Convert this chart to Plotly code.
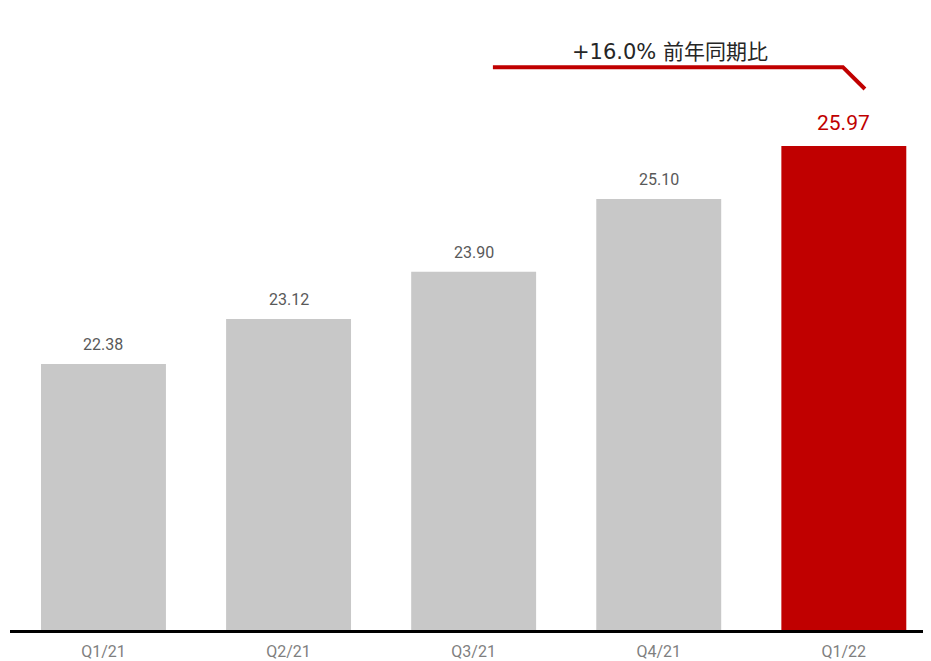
import plotly.graph_objects as go

categories = ["Q1/21", "Q2/21", "Q3/21", "Q4/21", "Q1/22"]
values = [22.38, 23.12, 23.90, 25.10, 25.97]
value_labels = ["22.38", "23.12", "23.90", "25.10", "25.97"]
bar_colors = ["#C8C8C8", "#C8C8C8", "#C8C8C8", "#C8C8C8", "#C00000"]
growth_label = "+16.0% 前年同期比"

fig = go.Figure()
fig.add_trace(go.Bar(
    x=categories, y=values, marker=dict(color=bar_colors, line=dict(width=0)),
    hoverinfo="skip", showlegend=False,
))

for i, (c, v, t) in enumerate(zip(categories, values, value_labels)):
    last = i == len(categories) - 1
    fig.add_annotation(
        x=c, y=v, xref="x", yref="y", text=t, showarrow=False,
        yanchor="bottom", yshift=8 if not last else 9,
        font=dict(family="Roboto, Arial, sans-serif",
                  size=21 if last else 16,
                  color="#C00000" if last else "#595959"),
    )

# growth bracket
fig.add_shape(
    type="path", xref="x", yref="y",
    path="M 2.104 27.27 L 3.995 27.27 L 4.114 26.91",
    line=dict(color="#C00000", width=4),
)
fig.add_annotation(
    x=3.06, y=27.52, xref="x", yref="y", text=growth_label, showarrow=False,
    font=dict(family="DejaVu Sans, Noto Sans CJK JP, sans-serif", size=21, color="#262626"),
)

fig.update_layout(
    width=923, height=653,
    margin=dict(l=2, r=0, t=0, b=31, autoexpand=False),
    paper_bgcolor="white", plot_bgcolor="white",
    bargap=0.325,
    xaxis=dict(
        type="category", range=[-0.505, 4.471], automargin=False,
        showline=True, linecolor="black", linewidth=3,
        showgrid=False, zeroline=False,
        ticks="outside", ticklen=5, tickcolor="rgba(0,0,0,0)",
        tickfont=dict(family="Roboto, Arial, sans-serif", size=16, color="#7F7F7F"),
    ),
    yaxis=dict(
        range=[18, 28.244], visible=False, showgrid=False, zeroline=False,
        automargin=False,
    ),
)

fig.write_html("out.html")
